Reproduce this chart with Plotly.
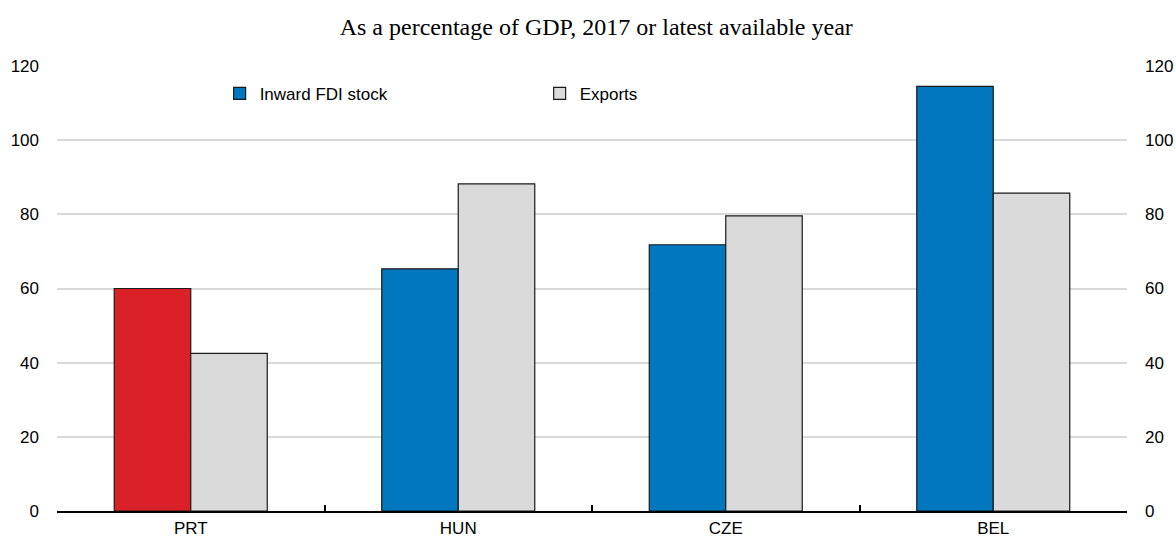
import plotly.graph_objects as go

countries = ["PRT", "HUN", "CZE", "BEL"]
fdi_stock = [60.0, 65.3, 71.8, 114.5]
exports = [42.5, 88.2, 79.6, 85.7]
y_ticks = [0, 20, 40, 60, 80, 100, 120]
highlight = "PRT"

BLUE = "#0077BE"
RED = "#DA2128"
GREY = "#DADADA"
EDGE = "#1a1a1a"

fdi_main = [None if c == highlight else v for c, v in zip(countries, fdi_stock)]
fdi_hl = [v if c == highlight else None for c, v in zip(countries, fdi_stock)]

fig = go.Figure()
fig.add_trace(go.Bar(
    x=countries, y=fdi_main, name="Inward FDI stock", offsetgroup="fdi",
    marker=dict(color=BLUE, line=dict(color=EDGE, width=1.2)),
))
fig.add_trace(go.Bar(
    x=countries, y=fdi_hl, name="Inward FDI stock (PRT)", offsetgroup="fdi",
    showlegend=False,
    marker=dict(color=RED, line=dict(color=EDGE, width=1.2)),
))
fig.add_trace(go.Bar(
    x=countries, y=exports, name="Exports", offsetgroup="exp",
    marker=dict(color=GREY, line=dict(color=EDGE, width=1.2)),
))
# invisible trace so the right-hand axis is drawn
fig.add_trace(go.Scatter(
    x=countries, y=exports, yaxis="y2", mode="markers",
    marker=dict(opacity=0), showlegend=False, hoverinfo="skip",
))

font_sans = "Liberation Sans, Arial, sans-serif"
FS = 17

fig.update_layout(
    width=1176, height=538,
    margin=dict(l=57, r=49, t=66, b=27),
    paper_bgcolor="white", plot_bgcolor="white",
    barmode="group", bargap=0.428, bargroupgap=0,
    font=dict(family=font_sans, size=FS, color="black"),
    title=dict(
        text="As a percentage of GDP, 2017 or latest available year",
        font=dict(family="Liberation Serif, Times New Roman, serif", size=24, color="black"),
        x=0.507, xanchor="center", y=0.95, yanchor="middle",
    ),
    showlegend=True,
    legend=dict(
        orientation="h", x=0.152, xanchor="left", y=0.978, yanchor="top",
        entrywidth=275, font=dict(family=font_sans, size=FS), bgcolor="rgba(0,0,0,0)",
        traceorder="normal",
    ),
    xaxis=dict(
        type="category", tickson="boundaries", ticks="inside", ticklen=6,
        tickcolor="black", tickwidth=1.5, showline=True, linecolor="black",
        linewidth=1.5, showgrid=False, tickfont=dict(size=FS), ticklabelstandoff=1,
        automargin=False,
    ),
    yaxis=dict(
        range=[0, 120], tickvals=y_ticks, showgrid=True, gridcolor="#d9d9d9",
        gridwidth=1.5, zeroline=False, showline=False, ticks="",
        tickfont=dict(size=FS), ticklabelstandoff=17, automargin=False,
    ),
    yaxis2=dict(
        range=[0, 120], tickvals=y_ticks, overlaying="y", side="right",
        showgrid=False, zeroline=False, showline=False, ticks="",
        tickfont=dict(size=FS), ticklabelstandoff=17, automargin=False,
    ),
)

fig.write_html(
    "out.html",
    config={"displayModeBar": False},
    post_script="document.body.style.margin='0';document.body.style.overflow='hidden';",
)
